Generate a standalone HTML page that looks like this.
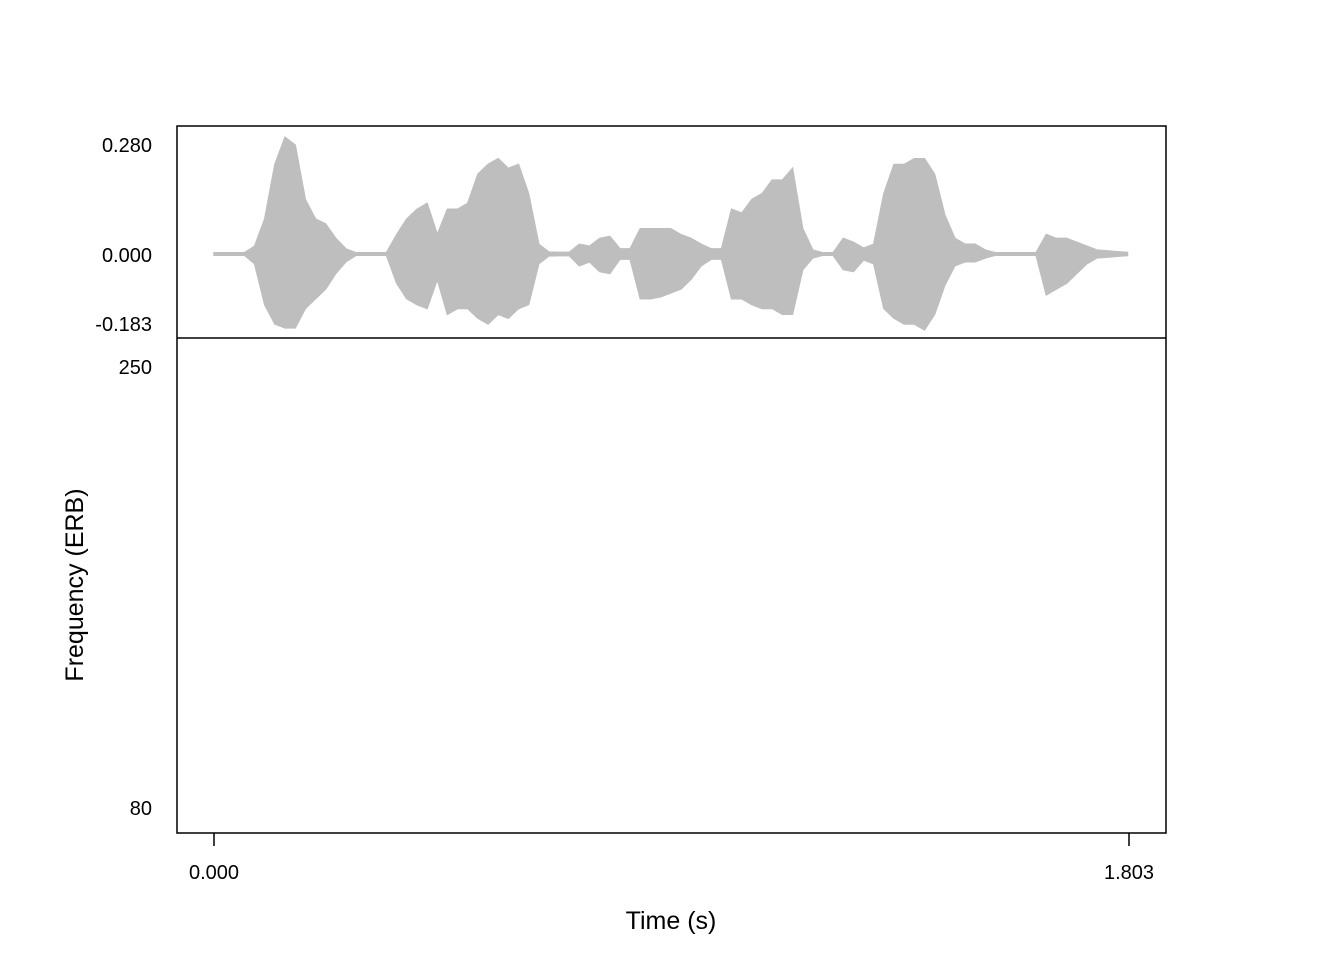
<!DOCTYPE html>
<html><head><meta charset="utf-8"><style>
body{margin:0;background:#fff}
svg{display:block;font-family:"Liberation Sans",sans-serif}
</style></head><body>
<svg id="chart" width="1344" height="960">
<rect x="0" y="0" width="1344" height="960" fill="#fff"/>
<g id="wave"></g>
<rect x="177" y="126" width="989" height="707" fill="none" stroke="#000" stroke-width="1.5"/>
<line x1="177" y1="338" x2="1166" y2="338" stroke="#000" stroke-width="1.5"/>
<g font-size="20" text-anchor="end">
<text x="152" y="152">0.280</text>
<text x="152" y="262">0.000</text>
<text x="152" y="331">-0.183</text>
<text x="152" y="374">250</text>
<text x="152" y="815">80</text>
</g>
<g id="xaxis"></g>
<text x="671" y="929" font-size="25" text-anchor="middle">Time (s)</text>
<text transform="translate(83,585) rotate(-90)" font-size="25" text-anchor="middle">Frequency (ERB)</text>
</svg>
<script>
const step = 0.02;
const upper = [.003,.003,.003,.003,.02,.09,.23,.30,.28,.14,.09,.077,.04,.013,.003,.003,.003,.003,.05,.09,.115,.13,.05,.115,.115,.13,.205,.23,.245,.22,.23,.155,.025,.005,.004,.004,.025,.02,.04,.045,.013,.013,.065,.065,.065,.065,.05,.04,.025,.013,.013,.115,.105,.14,.155,.19,.19,.22,.065,.01,.003,.003,.04,.03,.015,.025,.155,.23,.23,.245,.245,.205,.10,.04,.025,.025,.01,.003,.003,.003,.003,.003,.05,.04,.04,.03,.02,.01,.008,.006,.004];
const lower = [.003,.003,.003,.003,.025,.13,.18,.19,.19,.14,.115,.09,.05,.02,.003,.003,.003,.003,.075,.115,.13,.14,.065,.155,.14,.14,.165,.18,.155,.165,.14,.13,.025,.005,.004,.004,.03,.02,.045,.05,.013,.013,.115,.115,.11,.10,.09,.065,.03,.013,.013,.115,.115,.13,.14,.14,.155,.155,.04,.01,.003,.003,.04,.045,.015,.025,.14,.165,.18,.18,.195,.155,.08,.03,.02,.02,.01,.003,.003,.003,.003,.003,.105,.09,.075,.05,.025,.01,.008,.006,.004];
const xTicks = [0.000, 1.803];
const xTickLabels = ["0.000","1.803"];
const tMax = 1.803;
const xs = t => 214 + t/tMax*915;
const ys = v => 254 - v*389;
const NS="http://www.w3.org/2000/svg";
const wave=document.getElementById('wave');
let d="";
upper.forEach((v,i)=>{d+=(i?"L":"M")+xs(i*step).toFixed(1)+","+ys(v).toFixed(1);});
for(let i=lower.length-1;i>=0;i--){d+="L"+xs(i*step).toFixed(1)+","+ys(-lower[i]).toFixed(1);}
d+="Z";
const p=document.createElementNS(NS,'path');
p.setAttribute('d',d);p.setAttribute('fill','#bebebe');p.setAttribute('stroke','#bebebe');p.setAttribute('stroke-width','1.5');


wave.appendChild(p);
const xa=document.getElementById('xaxis');
xTicks.forEach((t,i)=>{
  const l=document.createElementNS(NS,'line');
  l.setAttribute('x1',xs(t));l.setAttribute('x2',xs(t));l.setAttribute('y1',833);l.setAttribute('y2',846);
  l.setAttribute('stroke','#000');l.setAttribute('stroke-width','1.5');
  
  
  xa.appendChild(l);
  const tx=document.createElementNS(NS,'text');
  tx.setAttribute('x',xs(t));tx.setAttribute('y',879);tx.setAttribute('font-size','20');tx.setAttribute('text-anchor','middle');
  tx.textContent=xTickLabels[i];
  
  
  xa.appendChild(tx);
});
</script>
</body></html>
